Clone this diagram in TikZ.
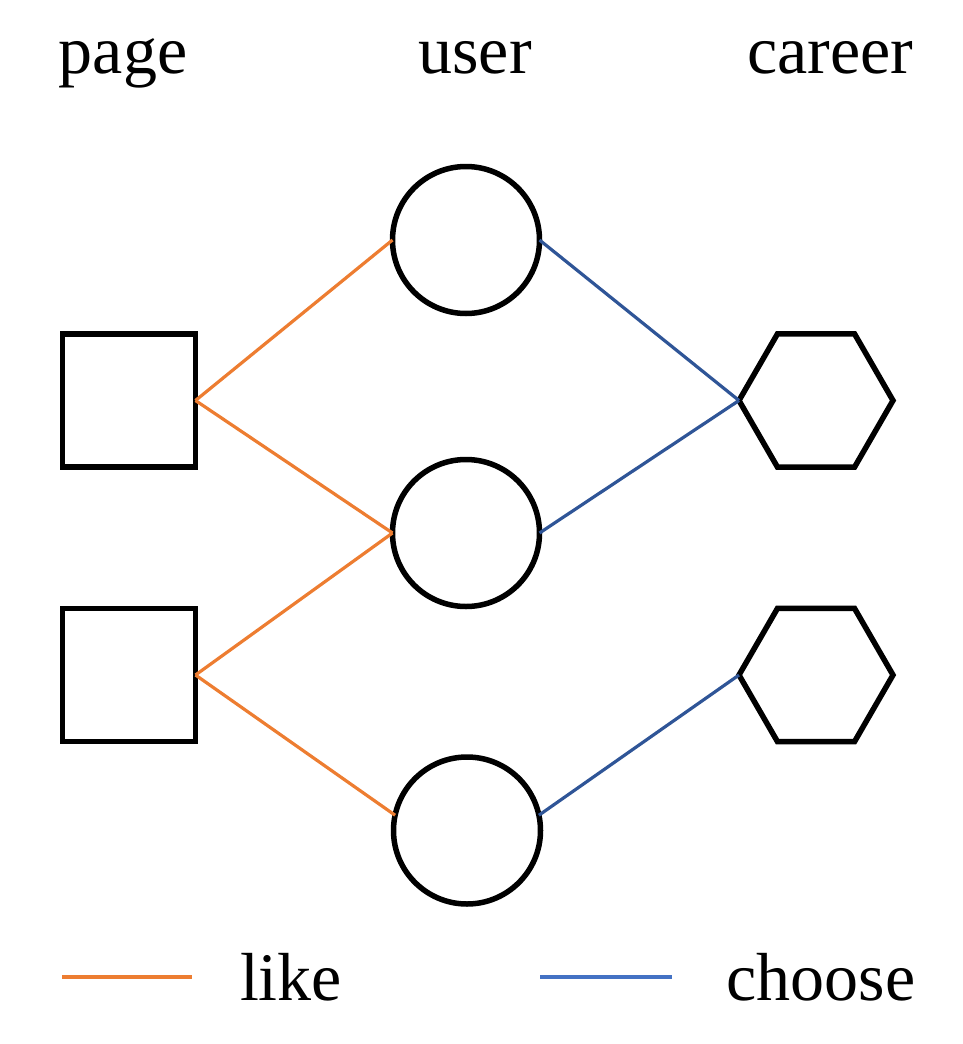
\documentclass[tikz,border=0pt]{standalone}
\usepackage{fontspec}
\setmainfont{Liberation Serif}
\newfontfamily\tnrfont{Liberation Serif}
\usetikzlibrary{shapes.geometric}
\definecolor{likeor}{HTML}{ED7D31}
\definecolor{chooseblue}{HTML}{2F5597}
\definecolor{legblue}{HTML}{4472C4}
\tikzset{
  pagebox/.style={draw=black, line width=5.5pt, rectangle, minimum size=133pt, inner sep=0pt, outer sep=0pt},
  userbox/.style={draw=black, line width=5.5pt, circle, minimum size=147pt, inner sep=0pt, outer sep=0pt},
  careerbox/.style={draw=black, line width=5.5pt, regular polygon, regular polygon sides=6, minimum size=154pt, inner sep=0pt, outer sep=0pt},
  likeedge/.style={draw=likeor, line width=3.2pt},
  chooseedge/.style={draw=chooseblue, line width=3.2pt},
  headlbl/.style={font=\tnrfont\fontsize{68pt}{80pt}\selectfont, anchor=base, inner sep=0pt},
  leglbl/.style={font=\tnrfont\fontsize{68pt}{80pt}\selectfont, anchor=base, inner sep=0pt}
}
\begin{document}
\begin{tikzpicture}[x=1pt,y=-1pt]
\useasboundingbox (0,0) rectangle (962,1044);
% headers
\node[headlbl] (hpage) at (123,73) {page};
\node[headlbl] (huser) at (475,73) {user};
\node[headlbl] (hcareer) at (830,73) {career};
% nodes
\node[pagebox] (p1) at (129,400.5) {};
\node[pagebox] (p2) at (129,675) {};
\node[userbox] (u1) at (466,240) {};
\node[userbox] (u2) at (466,533) {};
\node[userbox] (u3) at (467,830.5) {};
\node[careerbox] (c1) at (816,400.5) {};
\node[careerbox] (c2) at (816,675) {};
% like edges
\draw[likeedge] (p1.east) -- (u1.west);
\draw[likeedge] (p1.east) -- (u2.west);
\draw[likeedge] (p2.east) -- (u2.west);
\draw[likeedge] (p2.east) -- (u3.168);
% choose edges
\draw[chooseedge] (u1.east) -- (c1.west);
\draw[chooseedge] (u2.east) -- (c1.west);
\draw[chooseedge] (u3.12) -- (c2.west);
% legend
\coordinate (la) at (62,977);
\coordinate (lb) at (192,977);
\coordinate (ca) at (540,977);
\coordinate (cb) at (672,977);
\draw[draw=likeor, line width=3.5pt] (la) -- (lb);
\draw[draw=legblue, line width=3.5pt] (ca) -- (cb);
\node[leglbl] (tlike) at (291,1000) {like};
\node[leglbl] (tchoose) at (821,1000) {choose};
\end{tikzpicture}
\end{document}
